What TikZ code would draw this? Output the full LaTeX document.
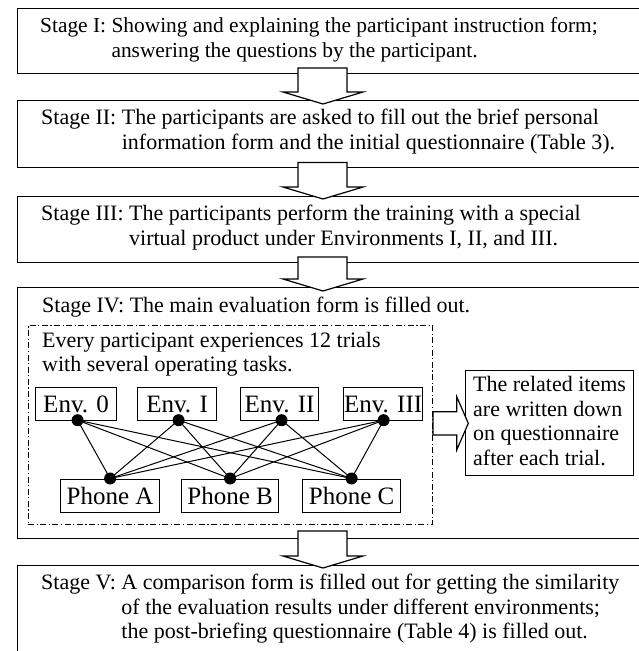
\documentclass[tikz,border=0pt]{standalone}
\usepackage{fontspec}
\setmainfont{Liberation Serif}
\usetikzlibrary{backgrounds}
\begin{document}
\begin{tikzpicture}[x=1pt,y=-1pt,
  stagebox/.style={draw, line width=1.4pt, inner sep=0pt, anchor=north west},
  txt/.style={anchor=base west, inner sep=0pt, font=\fontsize{22}{24.5}\selectfont},
  smallbox/.style={draw, line width=1.2pt, inner sep=0pt, anchor=north west, minimum height=33pt, font=\fontsize{25}{27}\selectfont},
  bigarrow/.style={draw, line width=1.2pt, fill=white, line join=miter},
  dot/.style={circle, fill=black, inner sep=0pt, minimum size=12pt},
  link/.style={line width=1pt},
  dashdot/.style={draw, line width=1pt, dash pattern=on 6pt off 2.5pt on 1.2pt off 2.5pt, inner sep=0pt, anchor=north west}
]
\useasboundingbox (0,0) rectangle (639,651);
\clip (0,0) rectangle (639,651);

% stage boxes
\node[stagebox, minimum width=650pt, minimum height=65pt] (b1) at (16.5,8) {};
\node[stagebox, minimum width=650pt, minimum height=67pt] (b2) at (16.5,100) {};
\node[stagebox, minimum width=650pt, minimum height=66pt] (b3) at (16.5,196) {};
\node[stagebox, minimum width=650pt, minimum height=251pt] (b4) at (16.5,287) {};
\node[stagebox, minimum width=650pt, minimum height=120pt] (b5) at (16.5,565) {};

% texts
\node[txt, font=\fontsize{21.4}{24.5}\selectfont] (t1) at (40,32.5) {\begin{tabular}[t]{@{}l@{\ }l@{}}Stage I: & Showing and explaining the participant instruction form;\\ & answering the questions by the participant.\end{tabular}};
\node[txt] (t2) at (41,124.5) {\begin{tabular}[t]{@{}l@{\ }l@{}}Stage II: & The participants are asked to fill out the brief personal\\ & information form and the initial questionnaire (Table 3).\end{tabular}};
\node[txt] (t3) at (41,220.5) {\begin{tabular}[t]{@{}l@{\ }l@{}}Stage III: & The participants perform the training with a special\\ & virtual product under Environments I, II, and III.\end{tabular}};
\node[txt] (t4) at (42,312) {Stage IV: The main evaluation form is filled out.};
\node[txt] (t5) at (41,589.5) {\begin{tabular}[t]{@{}l@{\ }l@{}}Stage V: & A comparison form is filled out for getting the similarity\\ & of the evaluation results under different environments;\\ & the post-briefing questionnaire (Table 4) is filled out.\end{tabular}};

% big arrows
\newcommand\blockarrow[3]{\draw[bigarrow] (298,#1) -- (347,#1) -- (347,#2) -- (363,#2) -- (323,#3) -- (283,#2) -- (298,#2) -- cycle;}
\blockarrow{68}{92}{104}
\blockarrow{162.5}{187}{199}
\blockarrow{257}{279}{291}
\blockarrow{531}{556}{568}

% dash-dot box
\node[dashdot, minimum width=404.5pt, minimum height=199pt] (dbox) at (27.5,325) {};
\node[txt] (t6) at (42,347) {\begin{tabular}[t]{@{}l@{}}Every participant experiences 12 trials\\ with several operating tasks.\end{tabular}};

% env boxes
\node[smallbox, minimum width=81pt] (e0) at (35,387) {Env. 0};
\node[smallbox, minimum width=79pt] (e1) at (137,387) {Env. I};
\node[smallbox, minimum width=78pt] (e2) at (240,387) {Env. II};
\node[smallbox, minimum width=79pt] (e3) at (343,387) {Env. III};

% phone boxes
\node[smallbox, minimum width=99pt] (pa) at (60,479) {Phone A};
\node[smallbox, minimum width=97pt] (pb) at (181,479) {Phone B};
\node[smallbox, minimum width=98pt] (pc) at (302,479) {Phone C};

% dots
\node[dot] (d0) at ([xshift=1.5pt,yshift=1pt]e0.south) {};
\node[dot] (d1) at ([xshift=1.5pt,yshift=1pt]e1.south) {};
\node[dot] (d2) at ([xshift=2pt,yshift=1pt]e2.south) {};
\node[dot] (d3) at ([xshift=0.5pt,yshift=1pt]e3.south) {};
\node[dot] (qa) at ([yshift=0.5pt]pa.north) {};
\node[dot] (qb) at ([yshift=0.5pt]pb.north) {};
\node[dot] (qc) at ([yshift=0.5pt]pc.north) {};

\begin{pgfonlayer}{background}
\foreach \e in {0,1,2,3}{
  \foreach \p in {a,b,c}{
    \draw[link] (d\e.center) -- (q\p.center);
  }
}
\end{pgfonlayer}

% callout
\node[draw, line width=1.2pt, inner sep=0pt, anchor=north west, minimum width=168pt, minimum height=105pt] (cb) at (465,370) {};
\node[txt] (t7) at (473,391.7) {\begin{tabular}[t]{@{}l@{}}The related items\\ are written down\\ on questionnaire\\ after each trial.\end{tabular}};
\draw[bigarrow] (dbox.east |- 0,411.7) -- (456.7,411.7) -- (456.7,396.7) -- (468.3,423.3) -- (456.7,450) -- (456.7,435) -- (dbox.east |- 0,435) -- cycle;
\end{tikzpicture}
\end{document}
